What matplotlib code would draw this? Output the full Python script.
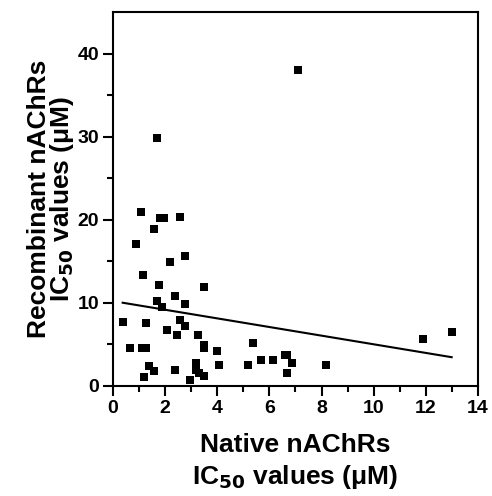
import numpy as np
import matplotlib
matplotlib.use('Agg')
import matplotlib.pyplot as plt

# valores
native = [1.08, 1.80, 1.95, 2.58, 1.57, 0.87, 2.77, 2.17, 1.15, 1.77,
          3.48, 2.37, 1.67, 1.87, 2.77, 0.37, 1.27, 2.57, 2.77, 2.07,
          2.46, 3.26, 0.67, 1.13, 1.28, 3.48, 3.48, 3.98, 1.37, 1.57,
          1.17, 2.37, 3.17, 3.17, 3.28, 3.48, 2.96, 4.08, 5.38, 5.17,
          5.68, 6.15, 6.58, 6.69, 6.87, 6.68, 8.18, 11.88, 12.99, 1.67,
          7.09]
recomb = [20.9, 20.2, 20.2, 20.3, 18.85, 17.1, 15.6, 14.9, 13.3, 12.1,
          11.85, 10.8, 10.2, 9.5, 9.9, 7.65, 7.5, 7.95, 7.15, 6.75,
          6.05, 6.15, 4.55, 4.55, 4.5, 4.9, 4.5, 4.15, 2.4, 1.75,
          1.1, 1.95, 2.7, 1.95, 1.55, 1.2, 0.7, 2.55, 5.1, 2.55,
          3.1, 3.1, 3.7, 3.7, 2.75, 1.55, 2.55, 5.57, 6.48, 29.9,
          38.0]

x_ticks = [0, 2, 4, 6, 8, 10, 12, 14]
y_ticks = [0, 10, 20, 30, 40]

native = np.array(native)
recomb = np.array(recomb)
# recta de regresion lineal
m, b = np.polyfit(native, recomb, 1)

plt.rcParams['font.family'] = ['Liberation Sans', 'DejaVu Sans']
plt.rcParams['font.weight'] = 'bold'
plt.rcParams['mathtext.default'] = 'bf'

fig = plt.figure(figsize=(4.92, 4.96), dpi=100)
ax = fig.add_axes([0.2297, 0.2224, 0.7418, 0.7530])

ax.scatter(native, recomb, marker='s', s=30, color='black', linewidths=0, zorder=3)
xl = np.array([native.min(), native.max()])
ax.plot(xl, m*xl + b, color='black', lw=1.5)

ax.set_xlim(0, 14)
ax.set_ylim(0, 45)
ax.set_xticks(x_ticks)
ax.set_yticks(y_ticks)
ax.set_xticks(np.arange(0, 15, 1), minor=True)
ax.set_yticks(np.arange(0, 45, 5), minor=True)
ax.tick_params(which='major', length=7, width=1.5, labelsize=14, pad=3)
ax.tick_params(which='minor', length=4, width=1.5)
for s in ax.spines.values():
    s.set_linewidth(1.5)

ax.set_xlabel('Native nAChRs\nIC$_{50}$ values (μM)', fontsize=19, fontweight='bold',
              linespacing=1.27, labelpad=12)
ax.set_ylabel('Recombinant nAChRs\nIC$_{50}$ values (μM)', fontsize=19, fontweight='bold',
              linespacing=0.88, labelpad=1)

fig.savefig('out.png', dpi=100)
